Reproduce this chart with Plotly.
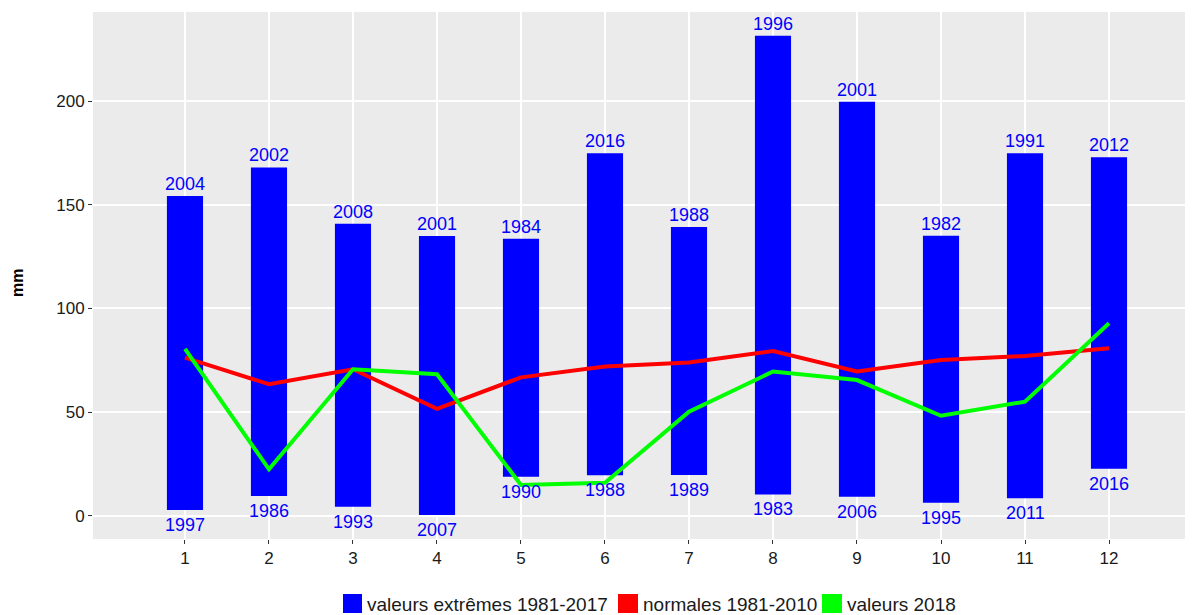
import plotly.graph_objects as go

# ---- data ----
months = [1, 2, 3, 4, 5, 6, 7, 8, 9, 10, 11, 12]
max_values = [154.2, 168.0, 140.9, 134.9, 133.6, 174.8, 139.3, 231.5, 199.7, 135.0, 174.8, 172.9]
max_years = ["2004", "2002", "2008", "2001", "1984", "2016", "1988", "1996", "2001", "1982", "1991", "2012"]
min_values = [2.9, 9.6, 4.5, 0.5, 18.9, 19.6, 19.8, 10.4, 9.3, 6.4, 8.5, 22.8]
min_years = ["1997", "1986", "1993", "2007", "1990", "1988", "1989", "1983", "2006", "1995", "2011", "2016"]
normales = [76.3, 63.5, 70.7, 51.6, 66.8, 72.0, 74.0, 79.5, 69.6, 75.2, 77.1, 80.8]
valeurs_2018 = [80.5, 22.5, 70.7, 68.3, 14.9, 16.0, 50.3, 69.6, 65.5, 48.3, 55.1, 92.9]
y_ticks = [0, 50, 100, 150, 200]
legend_names = ["valeurs extrêmes 1981-2017", "normales 1981-2010", "valeurs 2018"]

FONT = "Liberation Sans, Arial, sans-serif"
OFF = 8  # default page body margin
W, H = 1193 - OFF, 615 - OFF
ML, MR, MT, MB = 93 - OFF, 0, 12 - OFF, 76
PW = W - ML - MR
PH = H - MT - MB

fig = go.Figure()

fig.add_trace(go.Bar(
    x=months,
    y=[t - b for t, b in zip(max_values, min_values)],
    base=min_values,
    width=0.43,
    marker=dict(color="#0000FF", line=dict(width=0)),
    name=legend_names[0],
    showlegend=False,
))

fig.add_trace(go.Scatter(
    x=months, y=normales, mode="lines",
    line=dict(color="#FF0000", width=4),
    name=legend_names[1], showlegend=False,
))
fig.add_trace(go.Scatter(
    x=months, y=valeurs_2018, mode="lines",
    line=dict(color="#00FF00", width=4),
    name=legend_names[2], showlegend=False,
))

annotations = []
# year labels above / below each bar
for m, v, t in zip(months, max_values, max_years):
    annotations.append(dict(x=m, y=v, xref="x", yref="y", text=t, showarrow=False,
                            xanchor="center", yanchor="bottom", yshift=0,
                            font=dict(color="#0000FF", size=18, family=FONT)))
for m, v, t in zip(months, min_values, min_years):
    annotations.append(dict(x=m, y=v, xref="x", yref="y", text=t, showarrow=False,
                            xanchor="center", yanchor="top", yshift=-3,
                            font=dict(color="#0000FF", size=18, family=FONT)))

# manual legend (ggplot-style square keys); positions given in page pixels
def px_x(p):
    return (p - OFF - ML) / PW

def px_y(p):
    return (OFF + H - MB - p) / PH

legend_items = [
    (343, 362, "#0000FF", 365, legend_names[0]),
    (618, 638, "#FF0000", 641, legend_names[1]),
    (822, 842, "#00FF00", 845, legend_names[2]),
]
shapes = []
for x0, x1, col, tx, name in legend_items:
    shapes.append(dict(type="rect", xref="paper", yref="paper",
                       x0=px_x(x0), x1=px_x(x1), y0=px_y(613), y1=px_y(594),
                       fillcolor=col, line=dict(width=0), layer="above"))
    annotations.append(dict(xref="paper", yref="paper", x=px_x(tx), y=px_y(604),
                            xanchor="left", yanchor="middle", showarrow=False,
                            text=name, font=dict(size=19, color="#1a1a1a", family=FONT)))

annotations.append(dict(xref="paper", yref="paper", x=px_x(18), y=px_y(283),
                        textangle=-90, showarrow=False, text="<b>mm</b>",
                        xanchor="center", yanchor="middle",
                        font=dict(size=16, color="#000000", family=FONT)))

fig.update_layout(
    width=W, height=H,
    margin=dict(l=ML, r=MR, t=MT, b=MB),
    paper_bgcolor="white",
    plot_bgcolor="#EBEBEB",
    barmode="overlay",
    font=dict(family=FONT),
    showlegend=False,
    shapes=shapes,
    annotations=annotations,
    xaxis=dict(
        range=[-0.095, 13.0],
        tickmode="array", tickvals=months, ticktext=[str(m) for m in months],
        showgrid=True, gridcolor="white", gridwidth=1.5,
        zeroline=False, showline=False,
        ticks="outside", ticklen=4, tickcolor="#333333", tickwidth=1,
        tickfont=dict(size=17, color="#1a1a1a", family=FONT),
        fixedrange=True,
    ),
    yaxis=dict(
        range=[-11.1, 242.9],
        tickmode="array", tickvals=y_ticks, ticktext=[str(v) for v in y_ticks],
        showgrid=True, gridcolor="white", gridwidth=1.5,
        zeroline=False, showline=False,
        ticks="outside", ticklen=4, tickcolor="#333333", tickwidth=1,
        tickfont=dict(size=17, color="#1a1a1a", family=FONT),
        fixedrange=True,
    ),
)

fig.write_html("out.html", config={"displayModeBar": False})
